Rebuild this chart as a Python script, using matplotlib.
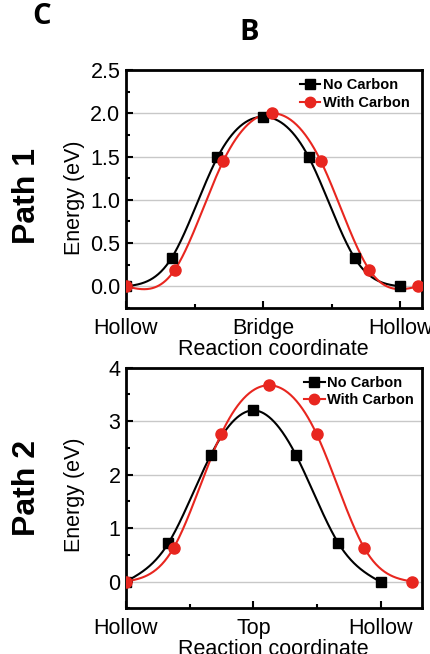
import numpy as np
import matplotlib
matplotlib.use("Agg")
import matplotlib.pyplot as plt
from matplotlib.ticker import MultipleLocator, FixedLocator

# ---------------- data ----------------
p1_black_x = [0, 1/3, 2/3, 1.0, 4/3, 5/3, 2.0]
p1_black_y = [0.0, 0.33, 1.49, 1.96, 1.49, 0.33, 0.0]
p1_red_x = [0, 0.355, 0.71, 1.065, 1.42, 1.775, 2.13]
p1_red_y = [0.0, 0.19, 1.45, 2.0, 1.45, 0.19, 0.0]

p2_black_x = [0, 1/3, 2/3, 1.0, 4/3, 5/3, 2.0]
p2_black_y = [0.0, 0.72, 2.37, 3.2, 2.37, 0.72, -0.01]
p2_red_x = [0, 0.374, 0.748, 1.122, 1.496, 1.87, 2.244]
p2_red_y = [0.0, 0.63, 2.76, 3.67, 2.76, 0.63, 0.0]

p1_xticklabels = ["Hollow", "Bridge", "Hollow"]
p2_xticklabels = ["Hollow", "Top", "Hollow"]
series_labels = ["No Carbon", "With Carbon"]


def natural_spline(x, y, n=400):
    x = np.asarray(x, float)
    y = np.asarray(y, float)
    N = len(x)
    h = np.diff(x)
    A = np.zeros((N, N))
    b = np.zeros(N)
    A[0, 0] = 1
    A[-1, -1] = 1
    for i in range(1, N - 1):
        A[i, i - 1] = h[i - 1]
        A[i, i] = 2 * (h[i - 1] + h[i])
        A[i, i + 1] = h[i]
        b[i] = 6 * ((y[i + 1] - y[i]) / h[i] - (y[i] - y[i - 1]) / h[i - 1])
    M = np.linalg.solve(A, b)
    xs = np.linspace(x[0], x[-1], n)
    idx = np.clip(np.searchsorted(x, xs) - 1, 0, N - 2)
    x0, x1 = x[idx], x[idx + 1]
    hh = x1 - x0
    t0 = x1 - xs
    t1 = xs - x0
    ys = (M[idx] * t0**3 / (6 * hh) + M[idx + 1] * t1**3 / (6 * hh)
          + (y[idx] / hh - M[idx] * hh / 6) * t0
          + (y[idx + 1] / hh - M[idx + 1] * hh / 6) * t1)
    return xs, ys


plt.rcParams['font.family'] = ['Liberation Sans', 'DejaVu Sans']

fig = plt.figure(figsize=(4.31, 6.54), dpi=100)

FS = 15.5


def panel(rect, bx, by, rx, ry, xlim, ylim, ymajor, yminor, yfmt, xlabels, leg_anchor, ylab_y):
    ax = fig.add_axes(rect)
    sx, sy = natural_spline(bx, by)
    ax.plot(sx, sy, color='black', lw=1.5, zorder=3)
    sx, sy = natural_spline(rx, ry)
    ax.plot(sx, sy, color='#e8261f', lw=1.5, zorder=3)
    ax.plot(bx, by, 's', color='black', ms=7.5, zorder=4)
    ax.plot(rx, ry, 'o', color='#e8261f', ms=8, zorder=5)
    hb, = ax.plot([], [], '-s', color='black', lw=1.5, ms=7)
    hr, = ax.plot([], [], '-o', color='#e8261f', lw=1.5, ms=7.5)
    ax.set_xlim(*xlim)
    ax.set_ylim(*ylim)
    ax.yaxis.set_major_locator(MultipleLocator(ymajor))
    ax.yaxis.set_minor_locator(MultipleLocator(yminor))
    ax.yaxis.set_major_formatter(yfmt)
    ax.xaxis.set_major_locator(FixedLocator([0, 1, 2]))
    ax.xaxis.set_minor_locator(FixedLocator([0.5, 1.5]))
    ax.set_xticklabels(xlabels)
    ax.grid(axis='y', color='#c8c8c8', lw=1.0, zorder=0)
    ax.set_axisbelow(True)
    for s in ax.spines.values():
        s.set_linewidth(2.0)
    ax.tick_params(which='both', direction='in', labelsize=FS, width=1.5)
    ax.tick_params(which='major', length=5)
    ax.tick_params(which='minor', length=3)
    ax.tick_params(axis='y', which='both', right=False, pad=4)
    ax.tick_params(axis='x', which='both', top=False, pad=7)
    ax.set_ylabel('Energy (eV)', fontsize=FS)
    ax.yaxis.set_label_coords(-0.137, ylab_y)
    ax.set_xlabel('Reaction coordinate', fontsize=FS, labelpad=0)
    ax.legend([hb, hr], series_labels, loc='upper right', bbox_to_anchor=leg_anchor,
              frameon=False, prop={'weight': 'bold', 'size': 10.5},
              handlelength=1.4, handletextpad=0.2, labelspacing=0.25,
              borderaxespad=0, numpoints=1)
    return ax


ax1 = panel([0.2923, 0.529, 0.6857, 0.364], p1_black_x, p1_black_y, p1_red_x, p1_red_y,
            (0, 2.155), (-0.25, 2.5), 0.5, 0.25, '{x:.1f}', p1_xticklabels, (0.98, 0.99), 0.463)
ax2 = panel([0.2923, 0.0699, 0.6857, 0.368], p2_black_x, p2_black_y, p2_red_x, p2_red_y,
            (0, 2.32), (-0.5, 4.0), 1, 0.5, '{x:.0f}', p2_xticklabels, (0.995, 0.99), 0.471)

fig.text(42 / 431, 1 - 16 / 654, 'C', fontsize=21, fontweight='bold', family=['Open Sans', 'DejaVu Sans'],
         ha='center', va='center')
fig.text(249 / 431, 1 - 33 / 654, 'B', fontsize=21, fontweight='bold', family=['Open Sans', 'DejaVu Sans'],
         ha='center', va='center')
fig.text(27.5 / 431, 1 - 196 / 654, 'Path 1', fontsize=23, fontweight='bold', rotation=90,
         ha='center', va='center')
fig.text(27.5 / 431, 1 - 487.5 / 654, 'Path 2', fontsize=23, fontweight='bold', rotation=90,
         ha='center', va='center')

fig.savefig('out.png', dpi=100)
